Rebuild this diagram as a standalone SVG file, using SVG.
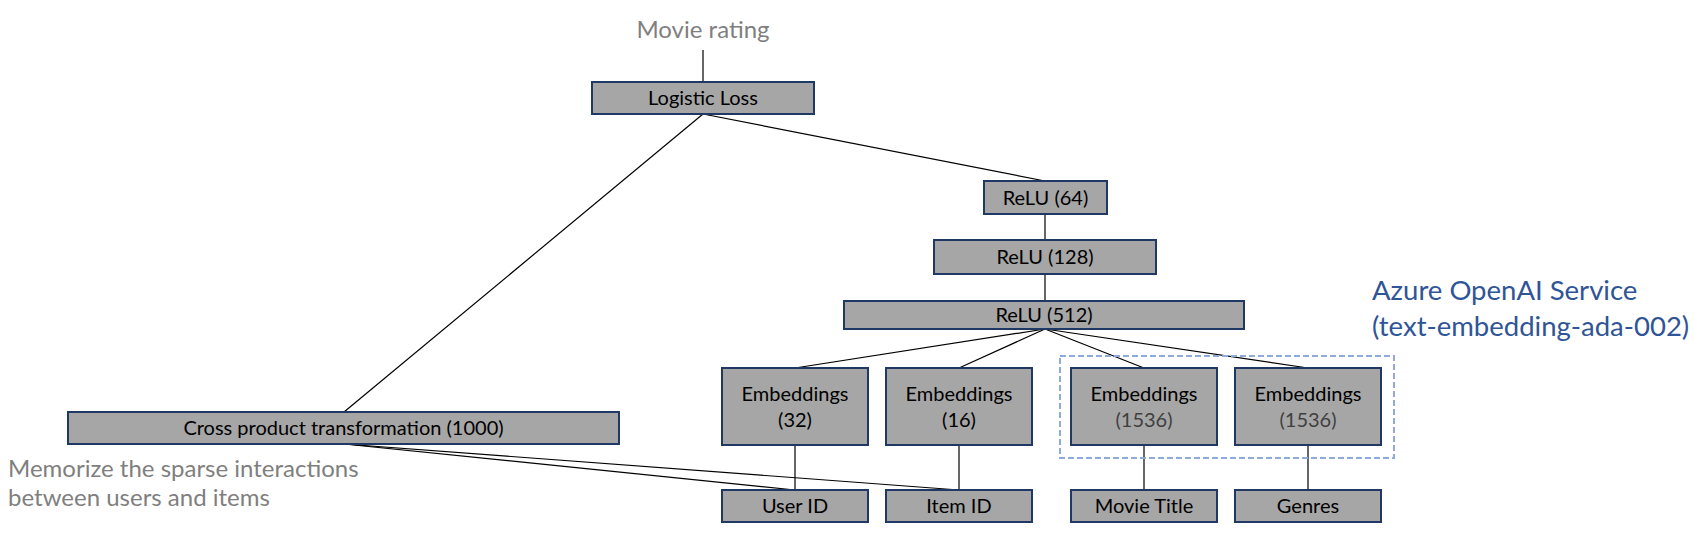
<svg xmlns="http://www.w3.org/2000/svg" width="1695" height="533" viewBox="0 0 1695 533">
<style>
.box{fill:#a6a6a6;stroke:#1f3864;stroke-width:2}
.t{font-family:Lato,"Noto Sans","Liberation Sans",sans-serif;font-size:20px;fill:#000;text-anchor:middle}
.g{font-family:Lato,"Noto Sans","Liberation Sans",sans-serif;font-size:24px;fill:#7f7f7f}
.b{font-family:Lato,"Noto Sans","Liberation Sans",sans-serif;font-size:27.5px;fill:#2f5597}
.c{stroke:#000;stroke-width:1.2;fill:none}
.n{fill:#404040}
</style>
<rect width="1695" height="533" fill="#fff"/>
<g id="connectors">
<line class="c" x1="703" y1="50" x2="703" y2="82"/>
<line class="c" x1="703" y1="114" x2="1045" y2="181"/>
<line class="c" x1="703" y1="114" x2="344" y2="412"/>
<line class="c" x1="1045" y1="214" x2="1045" y2="240"/>
<line class="c" x1="1045" y1="274" x2="1045" y2="301"/>
<line class="c" x1="1045" y1="329" x2="795" y2="368"/>
<line class="c" x1="1045" y1="329" x2="959" y2="368"/>
<line class="c" x1="1045" y1="329" x2="1144" y2="368"/>
<line class="c" x1="1045" y1="329" x2="1308" y2="368"/>
<line class="c" x1="795" y1="445" x2="795" y2="490"/>
<line class="c" x1="959" y1="445" x2="959" y2="490"/>
<line class="c" x1="1144" y1="445" x2="1144" y2="490"/>
<line class="c" x1="1308" y1="445" x2="1308" y2="490"/>
<line class="c" x1="344" y1="444" x2="795" y2="490"/>
<line class="c" x1="344" y1="444" x2="959" y2="490"/>
</g>
<g id="movie-rating"><text class="g" x="703" y="38" text-anchor="middle">Movie rating</text></g>
<g id="logistic-loss"><rect class="box" x="592" y="82" width="222" height="32"/><text class="t" x="703" y="105">Logistic Loss</text></g>
<g id="relu64"><rect class="box" x="984" y="181" width="123" height="33"/><text class="t" x="1045.5" y="205">ReLU (64)</text></g>
<g id="relu128"><rect class="box" x="934" y="240" width="222" height="34"/><text class="t" x="1045" y="264">ReLU (128)</text></g>
<g id="relu512"><rect class="box" x="844" y="301" width="400" height="28"/><text class="t" x="1044" y="322">ReLU (512)</text></g>
<g id="azure-group">
<rect x="1060" y="356" width="334" height="102" fill="none" stroke="#8faadc" stroke-width="2" stroke-dasharray="6,3"/>
<text class="b" x="1372" y="300">Azure OpenAI Service</text>
<text class="b" x="1372" y="336">(text-embedding-ada-002)</text>
</g>
<g id="emb32"><rect class="box" x="722" y="368" width="146" height="77"/><text class="t" x="795" y="401">Embeddings</text><text class="t" x="795" y="427">(32)</text></g>
<g id="emb16"><rect class="box" x="886" y="368" width="146" height="77"/><text class="t" x="959" y="401">Embeddings</text><text class="t" x="959" y="427">(16)</text></g>
<g id="emb1536a"><rect class="box" x="1071" y="368" width="146" height="77"/><text class="t" x="1144" y="401">Embeddings</text><text class="t n" x="1144" y="427">(1536)</text></g>
<g id="emb1536b"><rect class="box" x="1235" y="368" width="146" height="77"/><text class="t" x="1308" y="401">Embeddings</text><text class="t n" x="1308" y="427">(1536)</text></g>
<g id="cross-product"><rect class="box" x="68" y="412" width="551" height="32"/><text class="t" x="343.5" y="435">Cross product transformation (1000)</text></g>
<g id="memorize-note"><text class="g" x="8" y="477">Memorize the sparse interactions</text><text class="g" x="8" y="506">between users and items</text></g>
<g id="user-id"><rect class="box" x="722" y="490" width="146" height="32"/><text class="t" x="795" y="513">User ID</text></g>
<g id="item-id"><rect class="box" x="886" y="490" width="146" height="32"/><text class="t" x="959" y="513">Item ID</text></g>
<g id="movie-title"><rect class="box" x="1071" y="490" width="146" height="32"/><text class="t" x="1144" y="513">Movie Title</text></g>
<g id="genres"><rect class="box" x="1235" y="490" width="146" height="32"/><text class="t" x="1308" y="513">Genres</text></g>
</svg>
